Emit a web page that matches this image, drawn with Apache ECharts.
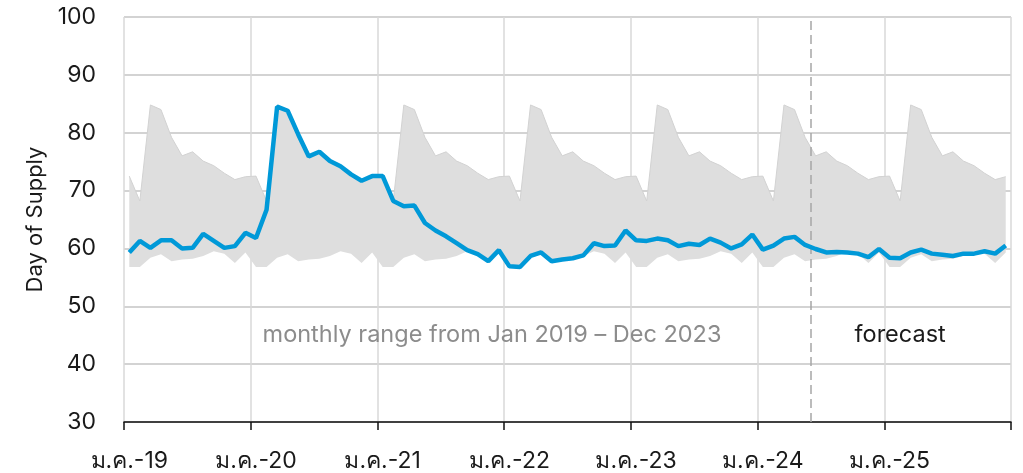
<!DOCTYPE html>
<html>
<head>
<meta charset="utf-8">
<script src="https://cdn.jsdelivr.net/npm/echarts@6/dist/echarts.min.js"></script>
<style>
  html, body { margin: 0; padding: 0; background: #fff; }
  #chart { width: 1023px; height: 473px; }
</style>
</head>
<body>
<div id="chart"></div>
<script>
// Thai short month names, one category per month Jan 2019 .. Dec 2025
const monthNames = ['ม.ค.', 'ก.พ.', 'มี.ค.', 'เม.ย.', 'พ.ค.', 'มิ.ย.', 'ก.ค.', 'ส.ค.', 'ก.ย.', 'ต.ค.', 'พ.ย.', 'ธ.ค.'];
const years = ['19', '20', '21', '22', '23', '24', '25'];

// monthly range (min / max) over Jan 2019 - Dec 2023, one value per calendar month
const rangeHigh = [72.5, 68.2, 84.8, 84.0, 79.2, 76.0, 76.7, 75.1, 74.3, 73.0, 71.9, 72.4];
const rangeLow = [56.8, 56.8, 58.4, 59.0, 57.8, 58.1, 58.2, 58.7, 59.5, 59.1, 57.5, 59.3];

// days of supply, actual + forecast
const daysOfSupply = [
  59.3, 61.3, 60.1, 61.4, 61.4, 60.0, 60.1, 62.5, 61.3, 60.1, 60.4, 62.7,
  61.8, 66.7, 84.5, 83.8, 79.7, 75.9, 76.7, 75.1, 74.2, 72.8, 71.7, 72.5,
  72.5, 68.2, 67.3, 67.4, 64.4, 63.1, 62.1, 60.9, 59.7, 59.0, 57.8, 59.7,
  56.9, 56.8, 58.7, 59.3, 57.8, 58.1, 58.3, 58.8, 60.9, 60.4, 60.5, 63.1,
  61.4, 61.3, 61.7, 61.4, 60.4, 60.8, 60.6, 61.7, 61.0, 60.0, 60.7, 62.4,
  59.8, 60.5, 61.7, 62.0, 60.6, 59.9, 59.3, 59.4, 59.3, 59.1, 58.5, 59.9,
  58.4, 58.3, 59.3, 59.8, 59.1, 58.9, 58.7, 59.1, 59.1, 59.5, 59.1, 60.5
];

// forecast starts with June 2024 (months counted from Jan 2019)
const forecastStart = 65;

const categories = [];
years.forEach((y) => monthNames.forEach((m) => categories.push(m + '-' + y)));

const bandLow = categories.map((c, i) => rangeLow[i % 12]);
const bandSpan = categories.map((c, i) => +(rangeHigh[i % 12] - rangeLow[i % 12]).toFixed(2));

const font = 'Inter, "Noto Sans", sans-serif';

const chart = echarts.init(document.getElementById('chart'), null, { renderer: 'canvas' });

chart.setOption({
  animation: false,
  textStyle: { fontFamily: font },
  grid: { left: 124, right: 12, top: 17, bottom: 50, containLabel: false },
  xAxis: [
    {
      type: 'category',
      data: categories,
      boundaryGap: true,
      axisLine: { show: true, lineStyle: { color: '#111', width: 1.5 } },
      axisTick: { show: true, interval: 11, length: 8, lineStyle: { color: '#111', width: 1.5 } },
      axisLabel: { interval: 11, color: '#1a1a1a', fontSize: 23, margin: 28, fontFamily: font },
      splitLine: { show: true, interval: 11, lineStyle: { color: '#d9d9d9', width: 1.5 } },
    },
    {
      // month-boundary scale for the forecast divider and notes
      type: 'value',
      min: 0,
      max: categories.length,
      show: false,
    },
  ],
  yAxis: {
    type: 'value',
    min: 30,
    max: 100,
    interval: 10,
    name: 'Day of Supply',
    nameLocation: 'middle',
    nameGap: 77,
    nameTextStyle: { fontSize: 22, color: '#1a1a1a', fontFamily: font },
    axisLine: { show: false },
    axisTick: { show: false },
    axisLabel: { color: '#1a1a1a', fontSize: 23, margin: 28, fontFamily: font },
    splitLine: { lineStyle: { color: '#c4c4c4', width: 1.5 } },
  },
  series: [
    {
      name: 'low',
      type: 'line',
      stack: 'range',
      data: bandLow,
      symbol: 'none',
      lineStyle: { width: 0 },
      silent: true,
    },
    {
      name: 'range',
      type: 'line',
      stack: 'range',
      data: bandSpan,
      symbol: 'none',
      lineStyle: { width: 1, color: '#d2d2d2' },
      areaStyle: { color: '#dedede', opacity: 1 },
      silent: true,
    },
    {
      name: 'Day of Supply',
      type: 'line',
      data: daysOfSupply,
      symbol: 'none',
      lineStyle: { width: 4.5, color: '#0099d8' },
      z: 5,
    },
    {
      name: 'notes',
      type: 'scatter',
      xAxisIndex: 1,
      data: [],
      silent: true,
      markLine: {
        symbol: 'none',
        silent: true,
        label: { show: false },
        lineStyle: { color: '#a6a6a6', width: 1.5, type: [9, 5] },
        data: [{ xAxis: forecastStart }],
      },
      markPoint: {
        symbol: 'circle',
        symbolSize: 0,
        silent: true,
        data: [
          {
            coord: [34.85, 45],
            label: { show: true, position: 'inside', formatter: 'monthly range from Jan 2019 \u2013 Dec 2023', color: '#8c8c8c', fontSize: 23.5, fontFamily: font },
          },
          {
            coord: [73.5, 45],
            label: { show: true, position: 'inside', formatter: 'forecast', color: '#1a1a1a', fontSize: 23.5, fontFamily: font },
          },
        ],
      },
    },
  ],
});
</script>
</body>
</html>
